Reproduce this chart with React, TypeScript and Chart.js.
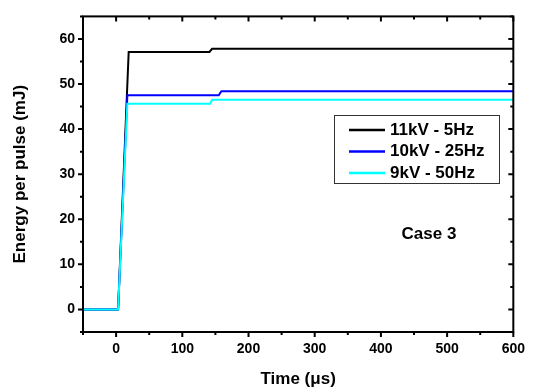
import React, { useEffect, useRef } from "react";
import { Chart, registerables } from "chart.js";

Chart.register(...registerables);

const seriesLabels = ["11kV - 5Hz", "10kV - 25Hz", "9kV - 50Hz"];
const seriesColors = ["#000000", "#0000ff", "#00ffff"];

const blackTime = [-50, 0, 3, 19, 141, 145, 600];
const blackEnergy = [0, 0, 0, 57.1, 57.1, 57.8, 57.8];
const blueTime = [-50, 0, 3, 17, 155, 159, 600];
const blueEnergy = [0, 0, 0, 47.5, 47.5, 48.4, 48.4];
const cyanTime = [-50, 0, 3, 17, 142, 145, 600];
const cyanEnergy = [0, 0, 0, 45.6, 45.6, 46.5, 46.5];

const xTicks = [0, 100, 200, 300, 400, 500, 600];
const xMinorTicks = [-50, 50, 150, 250, 350, 450, 550];
const yTicks = [0, 10, 20, 30, 40, 50, 60];
const yMinorTicks = [-5, 5, 15, 25, 35, 45, 55, 65];

const annotationText = "Case 3";
const FONT = "'Liberation Sans', Arial, Helvetica, sans-serif";

function toPoints(xs: number[], ys: number[]) {
  return xs.map((x, i) => ({ x, y: ys[i] }));
}

const framePlugin = {
  id: "frameAndTicks",
  afterDatasetsDraw(chart: any) {
    const { ctx, chartArea } = chart;
    const { left, right, top, bottom } = chartArea;
    const xs = chart.scales.x;
    const ys = chart.scales.y;
    ctx.save();
    ctx.strokeStyle = "#000";
    ctx.lineWidth = 2;
    ctx.lineCap = "butt";
    ctx.strokeRect(left, top, right - left, bottom - top);
    const major = 5;
    const minor = 3;
    ctx.beginPath();
    const xt = (v: number, len: number) => {
      const p = xs.getPixelForValue(v);
      ctx.moveTo(p, bottom);
      ctx.lineTo(p, bottom + len);
      ctx.moveTo(p, top);
      ctx.lineTo(p, top + len);
    };
    const yt = (v: number, len: number) => {
      const p = ys.getPixelForValue(v);
      ctx.moveTo(left, p);
      ctx.lineTo(left - len, p);
      ctx.moveTo(right, p);
      ctx.lineTo(right - len, p);
    };
    xTicks.forEach((v) => xt(v, major));
    xMinorTicks.forEach((v) => xt(v, minor));
    yTicks.forEach((v) => yt(v, major));
    yMinorTicks.forEach((v) => yt(v, minor));
    ctx.stroke();
    ctx.restore();
  },
  afterDraw(chart: any) {
    const { ctx } = chart;
    ctx.save();
    // legend box
    const bx = 334, by = 115, bw = 165, bh = 68;
    ctx.strokeStyle = "#333";
    ctx.lineWidth = 1;
    ctx.strokeRect(bx + 0.5, by + 0.5, bw, bh);
    ctx.font = `bold 17px ${FONT}`;
    ctx.textBaseline = "middle";
    ctx.textAlign = "left";
    chart.data.datasets.forEach((ds: any, i: number) => {
      const y = by + 15 + i * 21.5;
      ctx.strokeStyle = ds.borderColor;
      ctx.lineWidth = 2.5;
      ctx.beginPath();
      ctx.moveTo(349, y);
      ctx.lineTo(385, y);
      ctx.stroke();
      ctx.fillStyle = "#000";
      ctx.fillText(ds.label, 390, y);
    });
    ctx.textAlign = "center";
    ctx.fillText(annotationText, 429, 234);
    ctx.restore();
  },
};

export default function App() {
  const ref = useRef<HTMLCanvasElement | null>(null);
  useEffect(() => {
    if (!ref.current) return;
    const chart = new Chart(ref.current, {
      type: "scatter",
      data: {
        datasets: [
          { label: seriesLabels[0], data: toPoints(blackTime, blackEnergy), borderColor: seriesColors[0], order: 3 },
          { label: seriesLabels[1], data: toPoints(blueTime, blueEnergy), borderColor: seriesColors[1], order: 2 },
          { label: seriesLabels[2], data: toPoints(cyanTime, cyanEnergy), borderColor: seriesColors[2], order: 1 },
        ].map((d) => ({ ...d, showLine: true, pointRadius: 0, borderWidth: 2, fill: false, tension: 0 })),
      },
      options: {
        animation: false,
        responsive: false,
        layout: { padding: { top: 11, right: 17, left: 0, bottom: 0 } },
        plugins: { legend: { display: false }, tooltip: { enabled: false } },
        scales: {
          x: {
            type: "linear",
            min: -50,
            max: 600,
            afterBuildTicks: (s: any) => {
              s.ticks = xTicks.map((v) => ({ value: v }));
            },
            afterFit: (s: any) => {
              s.height = 60;
            },
            grid: { display: false, drawTicks: false },
            border: { display: false },
            ticks: { color: "#000", padding: 9, maxRotation: 0, font: { family: FONT, size: 14, weight: "bold" } },
            title: { display: true, text: "Time (μs)", color: "#000", padding: { top: 0, bottom: 2 }, font: { family: FONT, size: 17, weight: "bold" } },
          },
          y: {
            type: "linear",
            min: -5,
            max: 65,
            afterBuildTicks: (s: any) => {
              s.ticks = yTicks.map((v) => ({ value: v }));
            },
            afterFit: (s: any) => {
              s.width = 83;
            },
            grid: { display: false, drawTicks: false },
            border: { display: false },
            ticks: { color: "#000", padding: 8, font: { family: FONT, size: 14, weight: "bold" } },
            title: { display: true, text: "Energy per pulse (mJ)", color: "#000", padding: { top: 10, bottom: 0 }, font: { family: FONT, size: 17, weight: "bold" } },
          },
        },
      },
      plugins: [framePlugin],
    } as any);
    return () => chart.destroy();
  }, []);
  return (
    <div style={{ position: "fixed", left: 0, top: 0, width: 534, height: 392, background: "#fff" }}>
      <canvas ref={ref} width={534} height={392} style={{ width: 534, height: 392 }} />
    </div>
  );
}
